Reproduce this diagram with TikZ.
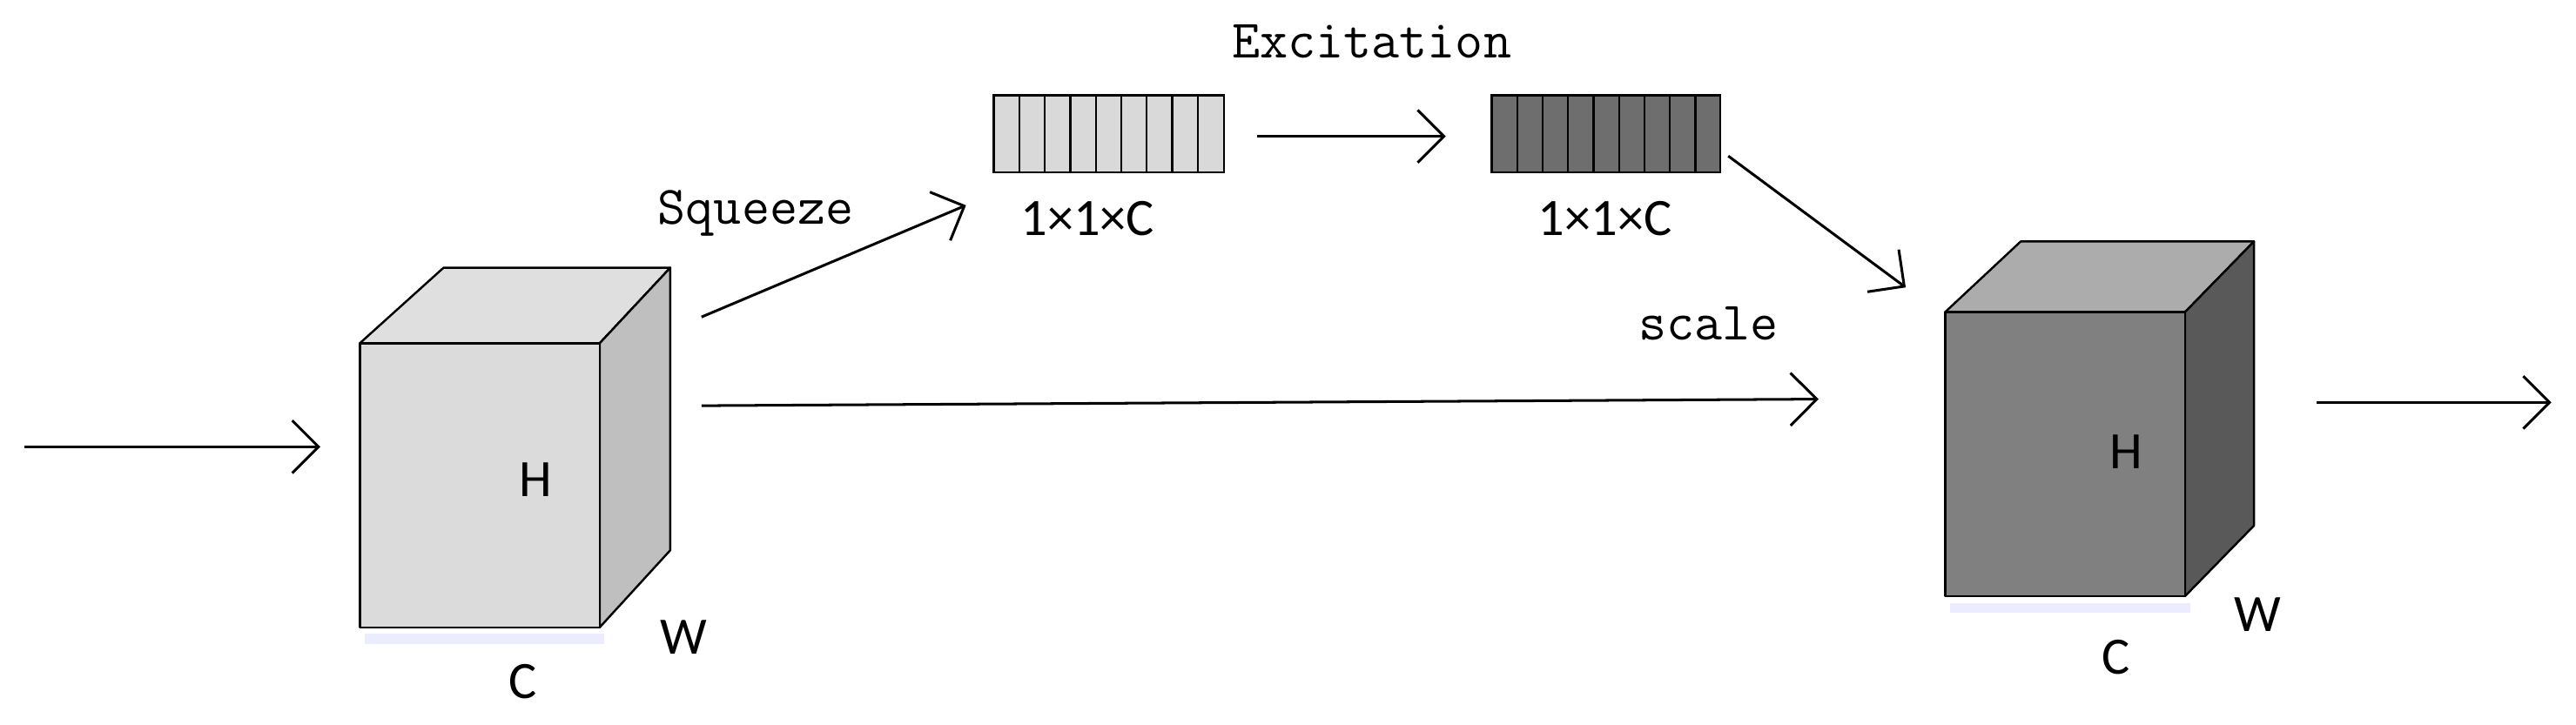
\documentclass[tikz,border=0pt]{standalone}
\usepackage{fontspec}
\newfontfamily\lab{Carlito}
\usetikzlibrary{arrows.meta}
\begin{document}
\begin{tikzpicture}[x=1pt,y=-1pt,
  arr/.style={line width=1.6pt,-{Straight Barb[length=16pt,width=32pt,line width=1.6pt]}},
  face/.style={draw=black,line width=1.3pt,line join=round},
  lbl/.style={font=\lab\fontsize{32}{36}\selectfont},
  ttl/.style={font=\ttfamily\fontsize{33}{36}\selectfont}]
\useasboundingbox (0,0) rectangle (1568,441);
% cube 1
\fill[blue!15,opacity=0.5] (222,386) rectangle (368,392);
\draw[face,fill=gray!25] (219,209) -- (270,163) -- (408,163) -- (365,209) -- cycle;
\draw[face,fill=gray!50] (365,209) -- (408,163) -- (408,335) -- (365,382) -- cycle;
\draw[face,fill=gray!28] (219,209) rectangle (365,382);
\node[lbl] (h1) at (326,292) {H};
\node[lbl] (c1) at (318,415) {C};
\node[lbl] (w1) at (416,388) {W};
% cube 2
\fill[blue!15,opacity=0.5] (1187,367) rectangle (1333,373);
\draw[face,fill=gray!65] (1184,190) -- (1230,147) -- (1372,147) -- (1330,190) -- cycle;
\draw[face,fill=black!65] (1330,190) -- (1372,147) -- (1372,320) -- (1330,363) -- cycle;
\draw[face,fill=black!50] (1184,190) rectangle (1330,363);
\node[lbl] (h2) at (1294,275) {H};
\node[lbl] (c2) at (1288,400) {C};
\node[lbl] (w2) at (1374,374) {W};
% vectors
\draw[line width=1.3pt,fill=gray!30] (605,58) rectangle (745,105);
\foreach \i in {1,...,8} \draw[line width=1.1pt] (605+\i*15.5,58) -- (605+\i*15.5,105);
\draw[line width=1.3pt,fill=black!57] (908,58) rectangle (1047,105);
\foreach \i in {1,...,8} \draw[line width=1.1pt] (908+\i*15.5,58) -- (908+\i*15.5,105);
\node[lbl] (v1) at (662,133) {1×1×C};
\node[lbl] (v2) at (977,133) {1×1×C};
% arrows
\coordinate (in0) at (15,272); \coordinate (in1) at (195,272);
\coordinate (sq0) at (427,193); \coordinate (sq1) at (588,125);
\coordinate (ex0) at (765,83); \coordinate (ex1) at (880,83);
\coordinate (sc0) at (1052,95); \coordinate (sc1) at (1160,175);
\coordinate (id0) at (427,247); \coordinate (id1) at (1107,243);
\coordinate (out0) at (1410,245); \coordinate (out1) at (1553,245);
\draw[arr] (in0) -- (in1);
\draw[arr] (sq0) -- (sq1);
\draw[arr] (ex0) -- (ex1);
\draw[arr] (sc0) -- (sc1);
\draw[arr] (id0) -- (id1);
\draw[arr] (out0) -- (out1);
\node[ttl] (sqz) at (460,130) {Squeeze};
\node[ttl] (exc) at (835,25) {Excitation};
\node[ttl] (scl) at (1040,197) {scale};
\end{tikzpicture}
\end{document}
